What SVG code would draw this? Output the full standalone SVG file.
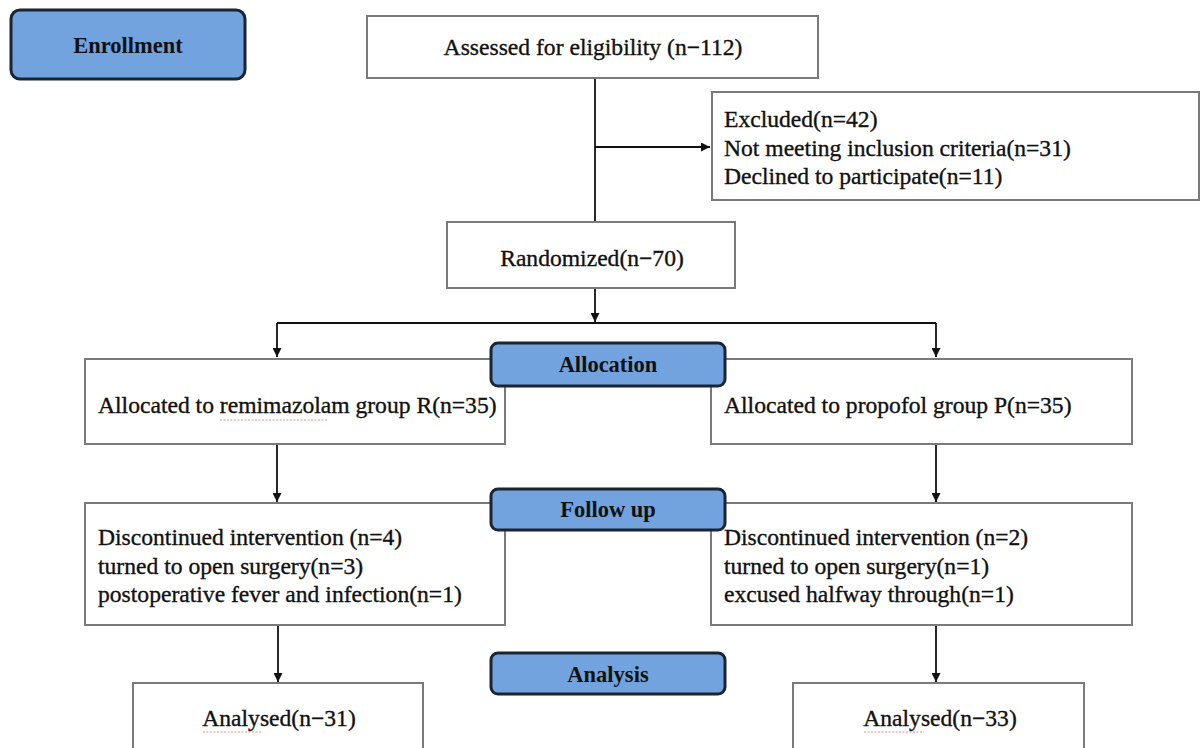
<svg xmlns="http://www.w3.org/2000/svg" width="1202" height="748" viewBox="0 0 1202 748">
<defs>
<style>
.box{fill:#fff;stroke:#7a7a7a;stroke-width:2}
.stage{fill:#72a3df;stroke:#1b2532;stroke-width:3}
.t{font-family:"Liberation Serif","Times New Roman",serif;font-size:23.6px;fill:#111;stroke:#111;stroke-width:0.35}
.st{font-family:"Liberation Serif","Times New Roman",serif;font-size:22.5px;font-weight:bold;fill:#111;text-anchor:middle}
.c{text-anchor:middle}
.ln{stroke:#111;stroke-width:1.8;fill:none}
.sq{stroke:#d06060;stroke-width:1;fill:none;stroke-dasharray:2 1.5;opacity:0.7}
</style>
<marker id="ah" viewBox="0 0 10 10" refX="10" refY="5" markerWidth="5" markerHeight="5" orient="auto" markerUnits="strokeWidth">
<path d="M0,0 L10,5 L0,10 z" fill="#111"/>
</marker>
</defs>
<rect width="1202" height="748" fill="#fff"/>
<g id="connectors">
<line class="ln" x1="595" y1="78" x2="595" y2="222"/>
<line class="ln" x1="595" y1="147" x2="710" y2="147" marker-end="url(#ah)"/>
<line class="ln" x1="595" y1="288" x2="595" y2="322" marker-end="url(#ah)"/>
<polyline class="ln" points="277,323 936,323"/>
<line class="ln" x1="277" y1="323" x2="277" y2="357" marker-end="url(#ah)"/>
<line class="ln" x1="936" y1="323" x2="936" y2="357" marker-end="url(#ah)"/>
<line class="ln" x1="277" y1="444" x2="277" y2="502" marker-end="url(#ah)"/>
<line class="ln" x1="936" y1="444" x2="936" y2="502" marker-end="url(#ah)"/>
<line class="ln" x1="278" y1="625" x2="278" y2="682" marker-end="url(#ah)"/>
<line class="ln" x1="936" y1="625" x2="936" y2="682" marker-end="url(#ah)"/>
</g>
<g id="enrollment">
<rect class="stage" x="11" y="10" width="234" height="69" rx="9"/>
<text class="st" x="128" y="53">Enrollment</text>
</g>
<g id="assessed">
<rect class="box" x="367" y="16" width="451" height="62"/>
<text class="t c" x="593" y="55">Assessed for eligibility (n−112)</text>
</g>
<g id="excluded">
<rect class="box" x="712" y="92" width="487" height="108"/>
<text class="t" x="724" y="127">Excluded(n=42)</text>
<text class="t" x="724" y="156">Not meeting inclusion criteria(n=31)</text>
<text class="t" x="724" y="184">Declined to participate(n=11)</text>
</g>
<g id="randomized">
<rect class="box" x="447" y="222" width="288" height="66"/>
<text class="t c" x="592" y="266">Randomized(n−70)</text>
</g>
<g id="alloc-r">
<rect class="box" x="85" y="359" width="420" height="85"/>
<text class="t" x="98" y="413">Allocated to remimazolam group R(n=35)</text>
<path class="sq" d="M220,420 L328,420"/>
</g>
<g id="alloc-p">
<rect class="box" x="711" y="359" width="421" height="85"/>
<text class="t" x="724" y="413">Allocated to propofol group P(n=35)</text>
</g>
<g id="allocation">
<rect class="stage" x="491" y="343" width="234" height="43" rx="7"/>
<text class="st" x="608" y="372">Allocation</text>
</g>
<g id="follow-r">
<rect class="box" x="85" y="503" width="420" height="122"/>
<text class="t" x="98" y="545">Discontinued intervention (n=4)</text>
<text class="t" x="98" y="574">turned to open surgery(n=3)</text>
<text class="t" x="98" y="602">postoperative fever and infection(n=1)</text>
</g>
<g id="follow-p">
<rect class="box" x="711" y="503" width="421" height="122"/>
<text class="t" x="724" y="545">Discontinued intervention (n=2)</text>
<text class="t" x="724" y="574">turned to open surgery(n=1)</text>
<text class="t" x="724" y="602">excused halfway through(n=1)</text>
</g>
<g id="followup">
<rect class="stage" x="491" y="489" width="234" height="41" rx="7"/>
<text class="st" x="608" y="517">Follow up</text>
</g>
<g id="analysis">
<rect class="stage" x="491" y="653" width="234" height="41" rx="7"/>
<text class="st" x="608" y="682">Analysis</text>
</g>
<g id="analysed-r">
<rect class="box" x="133" y="683" width="290" height="70"/>
<text class="t c" x="279" y="726">Analysed(n−31)</text>
<path class="sq" d="M203,732 L262,732"/>
</g>
<g id="analysed-p">
<rect class="box" x="793" y="683" width="291" height="70"/>
<text class="t c" x="940" y="726">Analysed(n−33)</text>
<path class="sq" d="M864,732 L924,732"/>
</g>
</svg>
